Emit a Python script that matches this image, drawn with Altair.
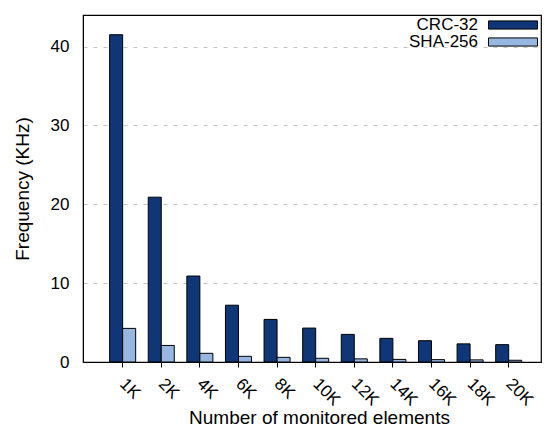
import altair as alt
import pandas as pd

categories = ["1K", "2K", "4K", "6K", "8K", "10K", "12K", "14K", "16K", "18K", "20K"]
series = ["CRC-32", "SHA-256"]
crc32 = [41.5, 20.9, 10.9, 7.2, 5.4, 4.3, 3.5, 3.0, 2.7, 2.3, 2.2]
sha256 = [4.26, 2.1, 1.1, 0.72, 0.59, 0.47, 0.4, 0.33, 0.3, 0.27, 0.22]
colors = ["#0f3677", "#98b7e0"]

rows = []
for i, c in enumerate(categories):
    rows.append({"cat": c, "series": series[0], "value": crc32[i]})
    rows.append({"cat": c, "series": series[1], "value": sha256[i]})
df = pd.DataFrame(rows)

FONT = "Liberation Sans"
FS = 17
TS = 19

chart = alt.Chart(df).mark_bar(stroke="black", strokeWidth=1).encode(
    x=alt.X("cat:N", sort=categories,
            scale=alt.Scale(paddingInner=0.326, paddingOuter=0.595, align=0.58),
            axis=alt.Axis(title="Number of monitored elements", labelAngle=45,
                          labelAlign="left", labelBaseline="middle", labelPadding=14,
                          tickSize=5, tickColor="black", domainColor="black",
                          labelFontSize=FS, titleFontSize=TS, labelFont=FONT, titleFont=FONT,
                          titleFontWeight="normal", labelColor="black", titleColor="black",
                          titlePadding=0, titleX=236, grid=False)),
    xOffset=alt.XOffset("series:N", sort=series),
    y=alt.Y("value:Q", scale=alt.Scale(domain=[0, 44], nice=False),
            axis=alt.Axis(title="Frequency (KHz)", values=[0, 10, 20, 30, 40],
                          grid=True, gridDash=[4, 6], gridColor="#c4c4c4",
                          tickSize=0, domainColor="black", labelPadding=14,
                          labelFontSize=FS, titleFontSize=TS, labelFont=FONT, titleFont=FONT,
                          titleFontWeight="normal", labelColor="black", titleColor="black",
                          titlePadding=18)),
    color=alt.Color("series:N", sort=series,
                    scale=alt.Scale(domain=series, range=colors),
                    legend=alt.Legend(title=None, orient="top-right", offset=1,
                                      symbolType="M-3,-0.5H3V0.5H-3Z", symbolSize=267,
                                      symbolStrokeColor="black", symbolStrokeWidth=1,
                                      symbolOpacity=1,
                                      labelAlign="right", labelOffset={"expr": "-44"},
                                      labelFontSize=FS, labelFont=FONT, labelColor="black",
                                      rowPadding={"expr": "-7"})),
).properties(
    width=458, height=347,
    padding={"left": 5, "top": 7, "right": 2, "bottom": 5},
).configure_view(stroke="black", strokeWidth=1.2)

chart.save("out.html", embed_options={"renderer": "svg", "actions": False})
